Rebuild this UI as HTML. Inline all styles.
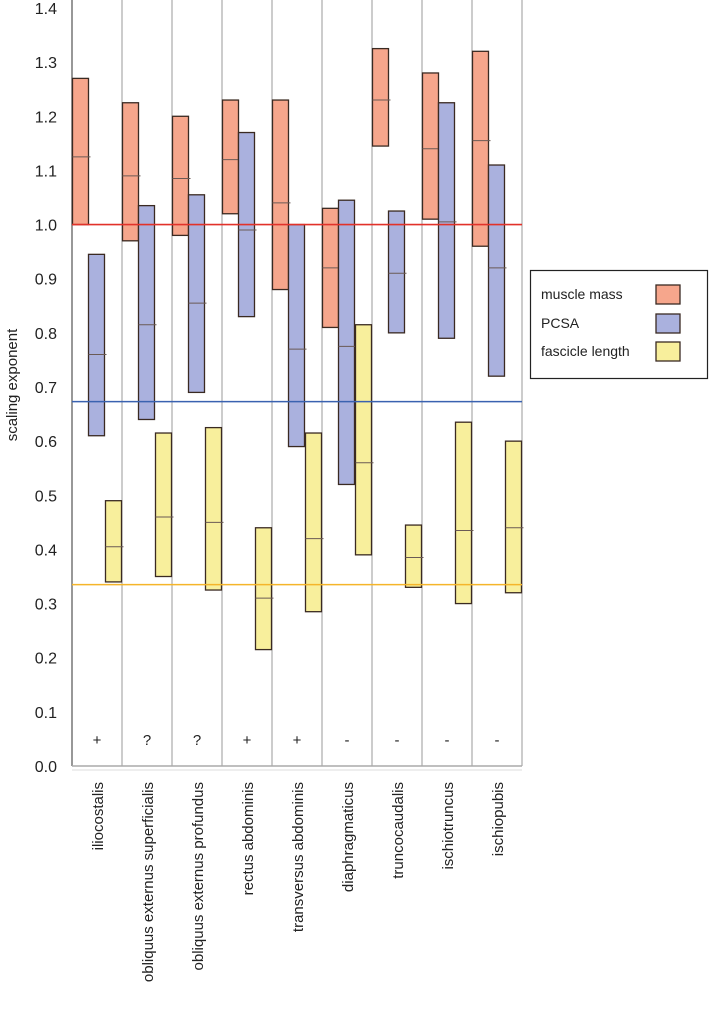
<!DOCTYPE html>
<html><head><meta charset="utf-8"><style>
html,body{margin:0;padding:0;background:#fff;width:709px;height:1015px;overflow:hidden}
svg{display:block;font-family:"Liberation Sans",sans-serif}
</style></head><body>
<svg id="chart" width="709" height="1015" viewBox="0 0 709 1015"></svg>
<script>
const categories=["iliocostalis","obliquus externus superficialis","obliquus externus profundus","rectus abdominis","transversus abdominis","diaphragmaticus","truncocaudalis","ischiotruncus","ischiopubis"];
const massLow=[1.0,0.97,0.98,1.02,0.88,0.81,1.145,1.01,0.96];
const massMid=[1.125,1.09,1.085,1.12,1.04,0.92,1.23,1.14,1.155];
const massHigh=[1.27,1.225,1.2,1.23,1.23,1.03,1.325,1.28,1.32];
const pcsaLow=[0.61,0.64,0.69,0.83,0.59,0.52,0.80,0.79,0.72];
const pcsaMid=[0.76,0.815,0.855,0.99,0.77,0.775,0.91,1.005,0.92];
const pcsaHigh=[0.945,1.035,1.055,1.17,1.0,1.045,1.025,1.225,1.11];
const flLow=[0.34,0.35,0.325,0.215,0.285,0.39,0.33,0.30,0.32];
const flMid=[0.405,0.46,0.45,0.31,0.42,0.56,0.385,0.435,0.44];
const flHigh=[0.49,0.615,0.625,0.44,0.615,0.815,0.445,0.635,0.60];
const symbols=["+","?","?","+","+","-","-","-","-"];
const yTicks=[0,0.1,0.2,0.3,0.4,0.5,0.6,0.7,0.8,0.9,1.0,1.1,1.2,1.3,1.4];
const refLines=[1.0,0.673,0.335];

const NS="http://www.w3.org/2000/svg";
const svg=document.getElementById('chart');
const X0=72,COLW=50,Y0=766,Y1=8;
const y=v=>Y0-(v/1.4)*(Y0-Y1);
const x=i=>X0+i*COLW;
function mk(t,a,p){const e=document.createElementNS(NS,t);for(const k in a)e.setAttribute(k,a[k]);(p||svg).appendChild(e);return e;}

let e;
for(let i=0;i<=9;i++){e=mk('line',{x1:x(i),x2:x(i),y1:0,y2:Y0,stroke:i==0?'#777':'#999','stroke-width':i==0?1.5:1});

}
e=mk('line',{x1:X0,x2:522,y1:Y0,y2:Y0,stroke:'#aaa','stroke-width':1.5});


e=mk('line',{x1:X0,x2:522,y1:Y0+4,y2:Y0+4,stroke:'#ddd','stroke-width':1});


yTicks.forEach(v=>{e=mk('text',{x:57,y:y(v)+6,'text-anchor':'end','font-size':16,fill:'#222'});e.textContent=v.toFixed(1);

});
e=mk('text',{x:17,y:385,'text-anchor':'middle','font-size':15,fill:'#222',transform:'rotate(-90 17 385)'});e.textContent='scaling exponent';



const series=[[massLow,massMid,massHigh,'#f6a68c','mass',0],[pcsaLow,pcsaMid,pcsaHigh,'#aab1de','pcsa',16],[flLow,flMid,flHigh,'#f8ef9c','fascicle',33]];
series.forEach(s=>{categories.forEach((c,i)=>{
 const bx=x(i)+s[5]+0.5,w=16;
 e=mk('rect',{x:bx,y:y(s[2][i]),width:w,height:y(s[0][i])-y(s[2][i]),fill:s[3],stroke:'#3a2a22','stroke-width':1.3});
 
 
 e=mk('line',{x1:bx,x2:bx+w+2,y1:y(s[1][i]),y2:y(s[1][i]),stroke:'#6a5a55','stroke-width':1});
 
 
});});
const refCols=['#e2322a','#3a62b0','#f5b52a'];
refLines.forEach((v,k)=>{e=mk('line',{x1:X0,x2:522,y1:y(v),y2:y(v),stroke:refCols[k],'stroke-width':1.6});

});
categories.forEach((c,i)=>{
 e=mk('text',{x:x(i)+25,y:745,'text-anchor':'middle','font-size':15,fill:'#222'});e.textContent=symbols[i];
 
 
 const cx=x(i)+31,cy=782;
 e=mk('text',{x:cx,y:cy,'text-anchor':'end','font-size':15,fill:'#222',transform:'rotate(-90 '+cx+' '+cy+')'});e.textContent=c;
 
 
});
const g=mk('g',{});


mk('rect',{x:530.5,y:270.5,width:177,height:108,fill:'#fff',stroke:'#222','stroke-width':1.2},g);
const lg=[['muscle mass','#f6a68c',294],['PCSA','#aab1de',323],['fascicle length','#f8ef9c',351]];
lg.forEach(l=>{e=mk('text',{x:541,y:l[2]+5,'font-size':14,fill:'#222'},g);e.textContent=l[0];


e=mk('rect',{x:656,y:l[2]-9,width:24,height:19,fill:l[1],stroke:'#3a2a22','stroke-width':1.3},g);

});
</script>
</body></html>
